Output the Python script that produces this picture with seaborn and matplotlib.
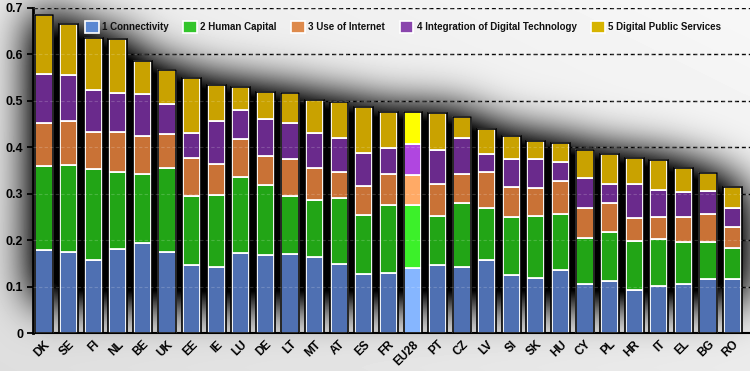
import numpy as np
import pandas as pd
import matplotlib
matplotlib.use("Agg")
import matplotlib.pyplot as plt
import seaborn as sns
from matplotlib.patches import Patch

countries = ["DK", "SE", "FI", "NL", "BE", "UK", "EE", "IE", "LU", "DE", "LT", "MT", "AT", "ES",
             "FR", "EU28", "PT", "CZ", "LV", "SI", "SK", "HU", "CY", "PL", "HR", "IT", "EL", "BG", "RO"]
connectivity = [0.178, 0.175, 0.158, 0.182, 0.194, 0.174, 0.147, 0.142, 0.173, 0.167, 0.170, 0.163, 0.149, 0.128,
                0.130, 0.141, 0.146, 0.143, 0.157, 0.124, 0.119, 0.135, 0.106, 0.111, 0.093, 0.101, 0.105, 0.116, 0.116]
human_capital = [0.181, 0.186, 0.196, 0.165, 0.149, 0.181, 0.148, 0.155, 0.162, 0.151, 0.125, 0.123, 0.142, 0.126,
                 0.146, 0.135, 0.106, 0.136, 0.112, 0.126, 0.132, 0.121, 0.099, 0.107, 0.105, 0.101, 0.090, 0.079, 0.068]
use_internet = [0.094, 0.096, 0.078, 0.085, 0.081, 0.073, 0.083, 0.066, 0.082, 0.063, 0.079, 0.070, 0.056, 0.062,
                0.066, 0.065, 0.068, 0.064, 0.077, 0.065, 0.062, 0.072, 0.065, 0.061, 0.049, 0.048, 0.054, 0.062, 0.044]
integration = [0.104, 0.098, 0.091, 0.084, 0.090, 0.066, 0.053, 0.093, 0.064, 0.079, 0.079, 0.075, 0.074, 0.072,
               0.057, 0.066, 0.074, 0.077, 0.039, 0.060, 0.062, 0.040, 0.063, 0.041, 0.074, 0.059, 0.054, 0.048, 0.041]
public_services = [0.127, 0.110, 0.113, 0.118, 0.072, 0.072, 0.118, 0.078, 0.048, 0.059, 0.063, 0.070, 0.076, 0.098,
                   0.077, 0.069, 0.080, 0.046, 0.055, 0.049, 0.039, 0.041, 0.061, 0.065, 0.056, 0.063, 0.053, 0.039, 0.045]
series_names = ["1 Connectivity", "2 Human Capital", "3 Use of Internet",
                "4 Integration of Digital Technology", "5 Digital Public Services"]
yticks = [0, 0.1, 0.2, 0.3, 0.4, 0.5, 0.6, 0.7]
ytick_labels = ["0", "0.1", "0.2", "0.3", "0.4", "0.5", "0.6", "0.7"]
highlight = "EU28"

colors = ["#4f70b2", "#22a516", "#c97236", "#6a2a8c", "#c9a200"]
hl_colors = ["#86b6ff", "#3cf02a", "#ffaa66", "#b046e0", "#ffff00"]
legend_colors = ["#5b88d2", "#33c52b", "#de8a4c", "#8a46ad", "#d7b400"]

series = [connectivity, human_capital, use_internet, integration, public_services]

sns.set_theme(style="white")
plt.rcParams["font.family"] = ["Liberation Sans", "DejaVu Sans"]

W, H = 750, 371
fig = plt.figure(figsize=(W / 100, H / 100), dpi=100)
fig.patch.set_facecolor("#eeeeee")
L, B, T = 33, 38, 8
ax = fig.add_axes([L / W, B / H, (W - L) / W, (H - B - T) / H])
x0, x1 = -0.45, 28.71
y0, y1 = 0.0, 0.7

# ---- blurred shadow background derived from bar totals ----
totals = np.sum(np.array(series), axis=0)
px_x = (x1 - x0) / (W - L)
px_y = (y1 - y0) / (H - B - T)
bx0 = x0 - L * px_x
by1 = y1 + T * px_y
xs = bx0 + (np.arange(W) + 0.5) * px_x
ys = by1 - (np.arange(H) + 0.5) * px_y
mask = np.zeros((H, W))
for i, t in enumerate(totals):
    cols = np.abs(xs - i) < 0.42
    rows = (ys < t + 0.005) & (ys > 0.07)
    mask[np.ix_(rows, cols)] = 1.0
sigma = 22.0
k = np.arange(-int(3 * sigma), int(3 * sigma) + 1)
kern = np.exp(-0.5 * (k / sigma) ** 2)
kern /= kern.sum()
blur = np.apply_along_axis(lambda r: np.convolve(r, kern, mode="same"), 1, mask)
blur = np.apply_along_axis(lambda c: np.convolve(c, kern, mode="same"), 0, blur)
dark = np.clip(blur * 1.75, 0, 1)
gx = np.linspace(0, 1, W)[None, :]
gy = np.linspace(0, 1, H)[:, None]
base = 0.97 - 0.05 * gy - 0.05 * (1 - gx)
img = base * (1 - dark)
bg = fig.add_axes([0, 0, 1, 1], zorder=-5)
bg.imshow(img, cmap="gray", vmin=0, vmax=1, extent=(0, 1, 0, 1), aspect="auto", interpolation="bilinear")
bg.set_axis_off()

ax.set_facecolor("none")
ax.set_axisbelow(True)
ax.yaxis.grid(True, color="black", linestyle=(0, (3, 2)), linewidth=1.0)
ax.xaxis.grid(False)

# ---- stacked bars ----
hl_idx = countries.index(highlight)
bottom = np.zeros(len(countries))
for vals, c, hc in zip(series, colors, hl_colors):
    n0 = len(ax.patches)
    sns.barplot(x=countries, y=vals, color=c, saturation=1, width=0.70, errorbar=None,
                bottom=bottom.copy(), edgecolor="white", linewidth=1.3, zorder=3, ax=ax)
    new = ax.patches[n0:]
    new[hl_idx].set_facecolor(hc)
    bottom += np.array(vals)

sns.barplot(x=countries, y=list(totals), fill=False, width=0.76, errorbar=None,
            edgecolor="black", linewidth=1.2, zorder=4, ax=ax)

# faint grid over bars
for yv in yticks[1:]:
    ax.axhline(yv, color="white", alpha=0.18, linestyle=(0, (3, 2)), linewidth=0.8, zorder=5)

ax.set_xlim(x0, x1)
ax.set_ylim(y0, y1)
ax.set_yticks(yticks)
ax.set_yticklabels(ytick_labels, fontsize=9, fontweight="bold", color="black")
ax.set_xticks(range(len(countries)))
ax.set_xticklabels(countries, rotation=45, ha="right", rotation_mode="anchor",
                   fontsize=8.5, fontweight="bold", color="black")
ax.set_xticks(np.arange(len(countries)) + 0.5, minor=True)
ax.tick_params(axis="x", which="major", length=0, pad=4)
ax.tick_params(axis="x", which="minor", length=4, width=1.3, color="black", direction="out")
ax.tick_params(axis="y", which="major", length=4, width=1.3, color="black", direction="out", pad=3, left=True)
ax.set_xlabel("")
ax.set_ylabel("")
for s in ["top", "right"]:
    ax.spines[s].set_visible(False)
ax.spines["left"].set_color("black")
ax.spines["left"].set_linewidth(2)
ax.spines["bottom"].set_color("black")
ax.spines["bottom"].set_linewidth(1.5)

handles = [Patch(facecolor=c, edgecolor="white", linewidth=1.2) for c in legend_colors]
leg = ax.legend(handles, series_names, ncol=5, loc="center",
                bbox_to_anchor=((403 - L) / (W - L), (H - 27 - B) / (H - B - T)),
                frameon=False, fontsize=7, handlelength=1.4, handleheight=1.4, handletextpad=0.35,
                columnspacing=1.5, borderaxespad=0)
for t in leg.get_texts():
    t.set_fontweight("bold")
    t.set_color("#111111")
leg.set_zorder(10)

fig.savefig("out.png", dpi=100, facecolor=fig.get_facecolor())
